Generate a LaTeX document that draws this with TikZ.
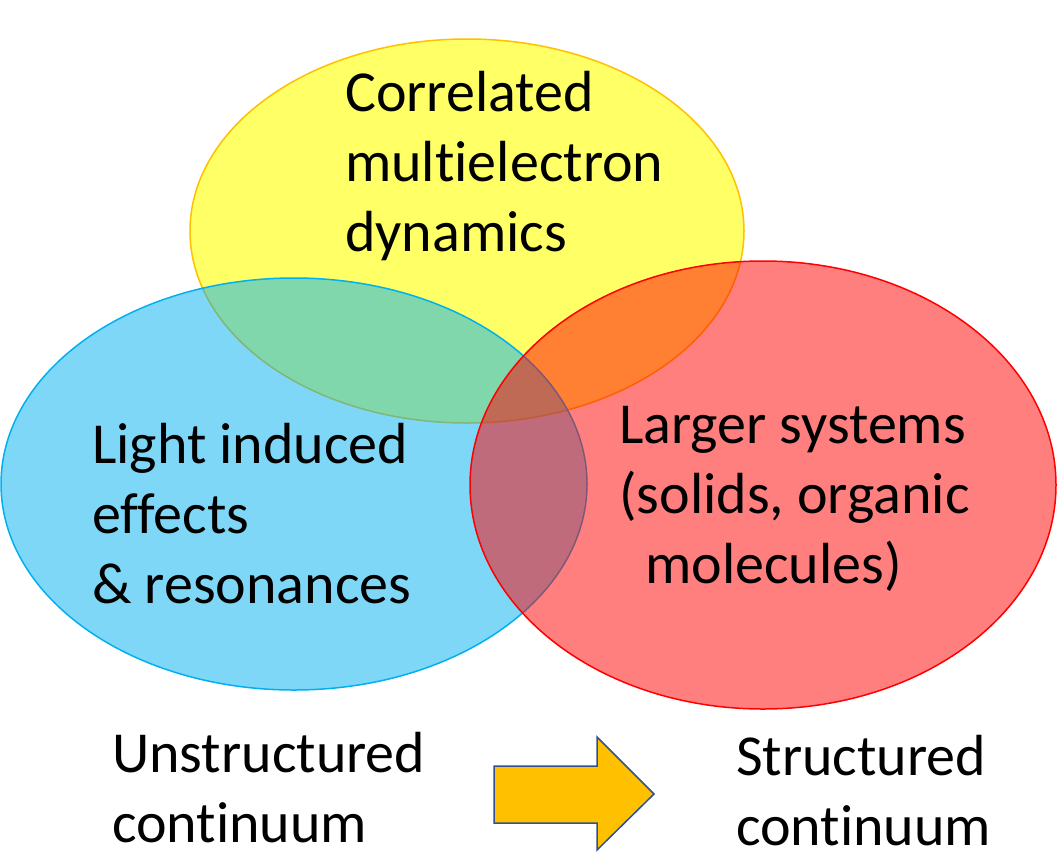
\documentclass[tikz,border=0pt]{standalone}
\usepackage{fontspec}
\setmainfont{Carlito}[Ligatures=NoCommon]
\usetikzlibrary{positioning}

\definecolor{setyellow}{HTML}{FFFF00}
\definecolor{setorange}{HTML}{FFC000}
\definecolor{setblue}{HTML}{00B0F0}
\definecolor{setred}{HTML}{FF0000}
\definecolor{arrowedge}{HTML}{2F528F}

\begin{document}
\begin{tikzpicture}[
    x=1pt, y=-1pt,
    label/.style={anchor=base west, align=left, inner sep=0pt, text depth=0pt, text=black, font=\fontsize{58}{70}\selectfont},
    yellowset/.style={fill=setyellow, fill opacity=0.6, draw=setorange, line width=1.5pt},
    blueset/.style={fill=setblue, fill opacity=0.5, draw=setblue, line width=1.5pt},
    redset/.style={fill=setred, fill opacity=0.5, draw=setred, line width=1.5pt},
    bigarrow/.style={fill=setorange, draw=arrowedge, line width=1.5pt, line join=miter}
]
\useasboundingbox (0,0) rectangle (1059,854);

% the three sets
\draw[yellowset] (467,231) ellipse [x radius=277, y radius=192];
\draw[blueset] (294,484) ellipse [x radius=293, y radius=206];
\draw[redset] (763,485) ellipse [x radius=293, y radius=224];

% base anchor sits on the last line
\node[label] (dynamics) at (345,251) {Correlated\\multielectron\\dynamics};
\node[label] (light) at (92,603) {Light induced\\effects\\\& resonances};
\node[label] (larger) at (619,583) {Larger systems\\(solids, organic\\\hspace{0.45em}molecules)};

% bottom row
\node[label] (unstructured) at (112,842) {Unstructured\\continuum};
\node[label] (structured) at (736,845) {Structured\\continuum};
\draw[bigarrow] (494,766) -- (597,766) -- (597,737) -- (654,794) -- (597,850) -- (597,823) -- (494,823) -- cycle;
\end{tikzpicture}
\end{document}
